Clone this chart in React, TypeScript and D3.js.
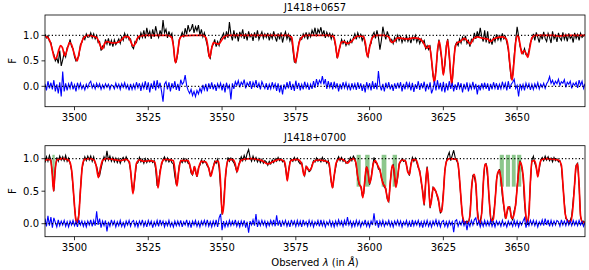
import React from "react";
import * as d3 from "d3";

// spectra are sampled on a regular grid: 3490 A, 0.5 A steps
const waveStart = 3490;
const waveStep = 0.5;

// J1418+0657 : fitted model (knots), observed flux, residual
const topModel: [number, number][] = [
  [3490.0, 0.98], [3490.8, 0.96], [3491.6, 0.9], [3492.4, 0.74], [3493.3, 0.54], [3494.0, 0.58],
  [3494.7, 0.72], [3495.3, 0.8], [3495.9, 0.76], [3496.7, 0.6], [3497.4, 0.7], [3498.3, 0.86],
  [3499.0, 0.82], [3499.8, 0.66], [3500.9, 0.5], [3501.7, 0.7], [3502.5, 0.88], [3503.4, 0.97],
  [3504.5, 1.0], [3506.0, 0.99], [3507.5, 0.96], [3508.6, 0.82], [3509.4, 0.73], [3510.2, 0.84],
  [3511.0, 0.88], [3512.0, 0.86], [3513.5, 0.85], [3515.0, 0.87], [3516.2, 0.93], [3517.2, 0.98],
  [3518.3, 0.97], [3519.2, 0.86], [3519.9, 0.79], [3520.6, 0.84], [3521.2, 0.93], [3522.2, 0.99],
  [3524.0, 1.0], [3528.0, 1.0], [3531.5, 1.0], [3532.8, 0.97], [3533.5, 0.8], [3534.2, 0.46],
  [3534.9, 0.65], [3535.6, 0.92], [3536.5, 0.99], [3540.0, 1.0], [3543.5, 1.0], [3544.6, 0.95],
  [3545.2, 0.78], [3545.8, 0.56], [3546.4, 0.72], [3547.1, 0.86], [3548.0, 0.84], [3548.9, 0.83],
  [3549.8, 0.9], [3550.8, 0.98], [3552.0, 1.0], [3560.0, 1.0], [3568.0, 1.0], [3572.5, 1.0],
  [3573.6, 0.96], [3574.2, 0.7], [3574.8, 0.47], [3575.4, 0.6], [3576.1, 0.85], [3577.0, 0.96],
  [3578.0, 1.0], [3586.0, 1.0], [3587.8, 0.98], [3588.5, 0.8], [3589.1, 0.56], [3589.7, 0.72],
  [3590.4, 0.86], [3591.2, 0.88], [3592.4, 0.84], [3593.6, 0.87], [3594.8, 0.94], [3596.0, 0.99],
  [3597.8, 0.98], [3598.6, 0.84], [3599.3, 0.58], [3600.0, 0.76], [3600.8, 0.94], [3602.0, 1.0],
  [3605.0, 1.0], [3606.5, 0.97], [3607.6, 0.86], [3608.6, 0.9], [3609.5, 0.95], [3611.0, 0.94],
  [3613.0, 0.93], [3615.0, 0.95], [3616.5, 0.94], [3618.0, 0.88], [3619.4, 0.75], [3620.2, 0.8],
  [3620.8, 0.62], [3621.4, 0.3], [3621.9, 0.07], [3622.5, 0.3], [3623.0, 0.7], [3623.6, 0.89],
  [3624.3, 0.62], [3625.0, 0.22], [3625.7, 0.58], [3626.4, 0.9], [3627.1, 0.55], [3627.8, 0.04],
  [3628.4, 0.4], [3629.0, 0.76], [3629.8, 0.86], [3630.8, 0.88], [3632.0, 0.94], [3633.3, 0.88],
  [3634.1, 0.83], [3635.0, 0.92], [3636.5, 0.97], [3638.5, 0.94], [3640.0, 0.93], [3641.0, 0.88],
  [3642.0, 0.93], [3643.5, 0.96], [3645.0, 0.97], [3646.3, 0.93], [3647.0, 0.75], [3647.7, 0.35],
  [3648.3, 0.12], [3648.9, 0.45], [3649.6, 0.9], [3650.3, 1.0], [3651.0, 0.82], [3651.6, 0.64],
  [3652.3, 0.7], [3652.9, 0.66], [3653.6, 0.57], [3654.3, 0.76], [3655.0, 0.95], [3656.0, 1.0],
  [3662.0, 1.0], [3664.0, 0.99], [3667.0, 1.0], [3673.0, 1.0],
];

const topFlux = [
  1.02, 0.95, 0.99, 0.88, 0.86, 0.7, 0.63, 0.5, 0.56, 0.45, 0.7, 0.4, 0.52, 0.66, 0.58, 0.76, 0.8, 0.92, 0.78, 0.74, 0.58, 0.5, 0.55, 0.6, 0.82, 0.86, 0.97, 0.92, 1.03, 0.96,
  0.97, 1.05, 0.95, 1.03, 0.93, 1.0, 0.86, 0.88, 0.7, 0.79, 0.76, 0.92, 0.83, 0.94, 0.8, 0.9, 0.78, 0.91, 0.82, 0.87, 0.93, 0.84, 0.97, 0.9, 1.04, 0.95, 1.01, 0.91, 0.93, 0.78,
  0.74, 0.88, 0.86, 0.98, 0.93, 1.05, 0.96, 1.1, 0.94, 1.15, 1.0, 1.08, 0.93, 1.12, 0.97, 1.18, 1.04, 0.96, 1.1, 0.99, 1.3, 1.05, 1.12, 0.95, 1.08, 0.98, 1.04, 0.82, 0.5, 0.48,
  0.64, 0.92, 0.98, 1.06, 0.96, 1.14, 1.02, 1.2, 1.08, 1.12, 1.22, 1.05, 1.17, 1.09, 1.2, 1.0, 1.12, 0.97, 1.05, 0.92, 0.8, 0.6, 0.55, 0.78, 0.82, 0.92, 0.78, 0.88, 0.8, 0.93,
  0.97, 1.04, 0.92, 1.08, 0.95, 1.26, 1.02, 0.9, 1.1, 0.94, 1.05, 0.88, 1.07, 0.98, 1.12, 0.93, 1.04, 0.9, 1.08, 0.97, 1.02, 0.89, 1.06, 0.95, 1.1, 0.92, 1.0, 1.07, 0.94, 1.03,
  0.96, 1.05, 0.9, 1.02, 0.94, 1.08, 0.97, 0.88, 1.04, 0.92, 1.06, 0.86, 0.99, 1.07, 0.93, 1.02, 0.89, 0.98, 0.72, 0.48, 0.46, 0.66, 0.84, 0.95, 0.92, 1.03, 0.96, 1.06, 0.92, 1.04,
  0.97, 1.1, 1.02, 1.15, 0.98, 1.12, 1.05, 1.16, 1.0, 1.1, 0.95, 1.06, 0.98, 1.04, 0.93, 1.02, 0.92, 0.78, 0.55, 0.68, 0.78, 0.92, 0.84, 0.9, 0.8, 0.88, 0.82, 0.92, 0.86, 0.95,
  1.03, 0.92, 1.05, 0.96, 1.02, 0.9, 0.98, 0.82, 0.64, 0.58, 0.8, 0.84, 1.0, 1.06, 0.94, 1.1, 0.96, 0.72, 0.9, 1.17, 1.02, 0.92, 1.08, 0.98, 0.88, 0.92, 0.84, 0.96, 0.88, 1.0,
  0.9, 0.98, 0.86, 0.95, 0.89, 0.99, 0.88, 0.96, 0.85, 0.97, 0.91, 1.0, 0.87, 0.95, 0.84, 0.93, 0.86, 0.9, 0.74, 0.8, 0.72, 0.78, 0.5, 0.2, 0.1, 0.34, 0.66, 0.92, 0.7, 0.52,
  0.24, 0.42, 0.8, 0.93, 0.58, 0.18, 0.06, 0.48, 0.8, 0.86, 0.8, 0.93, 0.85, 0.97, 0.9, 0.99, 0.84, 0.9, 0.78, 0.92, 0.88, 1.05, 0.93, 1.08, 0.96, 1.15, 0.98, 0.88, 1.1, 0.86,
  1.08, 0.84, 0.92, 0.82, 0.96, 0.88, 1.02, 0.91, 0.99, 0.9, 1.04, 0.93, 0.98, 0.86, 0.72, 0.42, 0.14, 0.22, 0.6, 0.9, 1.17, 0.98, 0.78, 0.7, 0.64, 0.74, 0.62, 0.6, 0.7, 0.86,
  0.93, 1.03, 0.9, 1.06, 0.96, 0.86, 1.02, 0.92, 1.07, 0.94, 0.88, 1.04, 0.96, 0.85, 1.08, 0.93, 1.0, 0.87, 1.05, 0.95, 0.9, 1.06, 0.92, 1.01, 0.88, 1.04, 0.94, 0.99, 0.86, 1.05,
  0.94, 1.02, 0.9, 1.04, 0.96, 0.99, 1.02,
];

const topResid = [
  0.05, -0.08, 0.1, -0.04, 0.07, -0.06, 0.12, -0.1, 0.04, -0.14, 0.08, -0.2, 0.29, -0.1, 0.06, -0.08, 0.05, -0.04, 0.09, -0.06, 0.03, -0.1, 0.07, -0.04, 0.06, -0.05, 0.02, -0.07, 0.04, -0.03,
  0.06, 0.1, -0.03, 0.04, -0.05, 0.06, -0.02, 0.05, -0.06, 0.03, -0.04, 0.05, -0.02, 0.04, -0.06, 0.03, 0.01, -0.05, 0.06, -0.03, 0.04, -0.06, 0.05, -0.02, 0.07, -0.04, 0.03, -0.08, 0.05, -0.06,
  0.04, -0.05, 0.08, -0.03, 0.06, -0.09, 0.05, -0.04, 0.1, -0.07, 0.08, -0.12, 0.06, -0.05, 0.11, -0.08, 0.12, -0.04, 0.07, -0.1, -0.3, 0.04, 0.09, -0.06, 0.08, -0.1, 0.06, -0.04, 0.1, -0.07,
  0.05, -0.09, 0.13, 0.04, 0.08, 0.22, 0.02, -0.08, -0.14, -0.06, -0.18, -0.1, -0.2, -0.08, -0.15, -0.04, -0.12, 0.03, -0.07, 0.05, -0.1, 0.06, -0.05, 0.08, -0.06, 0.04, -0.09, 0.05, -0.03, 0.06,
  -0.08, 0.05, -0.12, 0.07, -0.04, 0.02, -0.26, 0.06, -0.05, 0.09, 0.02, 0.11, -0.02, 0.08, 0.03, 0.13, -0.04, 0.07, 0.01, 0.1, -0.05, 0.08, 0.0, 0.12, -0.03, 0.06, -0.06, 0.09, 0.02, -0.04,
  0.06, -0.07, 0.04, -0.05, 0.08, -0.03, 0.05, -0.09, 0.06, -0.12, 0.03, -0.16, 0.04, -0.06, 0.08, -0.04, 0.1, -0.07, 0.05, -0.09, 0.11, -0.05, 0.07, -0.08, 0.04, -0.06, 0.09, -0.03, 0.05, -0.07,
  0.04, -0.05, 0.1, -0.03, 0.14, 0.02, 0.12, 0.06, 0.2, 0.04, 0.14, -0.05, 0.1, -0.02, 0.08, -0.06, 0.09, -0.04, 0.06, -0.1, 0.05, -0.06, 0.08, -0.03, 0.07, -0.05, 0.04, -0.08, 0.06, -0.04,
  0.05, -0.07, 0.08, -0.05, 0.06, -0.09, 0.04, -0.12, 0.08, -0.04, 0.06, -0.08, 0.1, -0.05, 0.07, -0.06, 0.3, 0.02, -0.08, 0.05, -0.1, 0.07, -0.04, 0.08, -0.06, 0.04, -0.09, 0.06, -0.05, 0.07,
  -0.04, 0.08, -0.1, 0.05, -0.06, 0.09, -0.03, 0.06, -0.08, 0.07, -0.11, 0.04, -0.05, 0.1, -0.07, 0.06, -0.04, 0.09, -0.1, 0.05, -0.06, 0.08, -0.14, -0.05, 0.1, -0.08, 0.12, -0.06, 0.07, -0.1,
  0.09, -0.12, 0.06, -0.08, 0.1, -0.05, 0.07, -0.1, 0.04, -0.07, 0.08, -0.04, 0.06, -0.12, 0.05, -0.06, 0.08, -0.1, 0.04, -0.05, 0.09, -0.06, 0.05, -0.16, 0.03, -0.08, 0.06, -0.04, 0.07, -0.05,
  0.06, -0.09, 0.05, -0.06, 0.08, -0.04, 0.06, -0.07, 0.04, -0.05, 0.09, -0.03, 0.06, -0.08, 0.1, -0.05, 0.04, 0.08, 0.14, -0.04, 0.02, -0.2, 0.05, -0.06, 0.04, -0.08, 0.06, -0.03, 0.05, -0.07,
  0.04, -0.06, 0.05, -0.03, 0.07, -0.05, 0.04, -0.02, 0.06, -0.04, 0.05, 0.1, 0.19, 0.06, 0.12, 0.03, 0.1, 0.05, 0.14, 0.02, 0.09, 0.06, 0.13, -0.02, 0.08, 0.04, 0.1, -0.04, 0.06, 0.02,
  0.08, -0.03, 0.12, 0.02, 0.1, -0.04, 0.05,
];

// J1418+0700
const botModel: [number, number][] = [
  [3490.0, 0.97], [3491.0, 0.99], [3491.9, 0.98], [3492.4, 0.8], [3492.9, 0.5], [3493.4, 0.8],
  [3494.0, 0.98], [3496.0, 1.0], [3497.5, 0.99], [3498.4, 0.95], [3499.2, 0.75], [3499.8, 0.4],
  [3500.4, 0.08], [3500.9, 0.02], [3501.4, 0.1], [3502.0, 0.5], [3502.7, 0.9], [3503.4, 0.99],
  [3505.0, 1.0], [3506.6, 0.98], [3507.3, 0.9], [3508.1, 0.71], [3508.8, 0.86], [3509.6, 0.98],
  [3511.0, 1.0], [3513.0, 0.99], [3515.5, 0.97], [3517.5, 0.99], [3518.6, 0.95], [3519.2, 0.72],
  [3519.8, 0.46], [3520.4, 0.7], [3521.0, 0.93], [3522.0, 0.98], [3523.5, 0.96], [3525.5, 0.97],
  [3527.2, 0.95], [3527.8, 0.78], [3528.3, 0.55], [3528.9, 0.75], [3529.6, 0.94], [3530.5, 0.99],
  [3533.5, 0.97], [3534.1, 0.8], [3534.7, 0.58], [3535.3, 0.8], [3536.0, 0.97], [3538.5, 0.97],
  [3539.4, 0.84], [3540.0, 0.76], [3540.7, 0.88], [3541.5, 0.73], [3542.2, 0.88], [3543.0, 0.96],
  [3544.5, 0.95], [3545.5, 0.85], [3546.2, 0.73], [3546.9, 0.85], [3547.8, 0.96], [3548.8, 0.96],
  [3549.4, 0.7], [3549.9, 0.25], [3550.2, 0.15], [3550.6, 0.3], [3551.2, 0.75], [3552.0, 0.97],
  [3553.5, 0.99], [3554.4, 0.93], [3555.1, 0.8], [3555.8, 0.92], [3557.0, 0.99], [3560.0, 1.0],
  [3563.5, 0.97], [3565.5, 0.92], [3567.5, 0.96], [3569.5, 0.99], [3571.2, 0.95], [3571.7, 0.82],
  [3572.1, 0.66], [3572.6, 0.82], [3573.3, 0.97], [3575.5, 0.99], [3577.0, 0.92], [3577.8, 0.74],
  [3578.6, 0.88], [3579.5, 0.82], [3580.3, 0.86], [3581.0, 0.95], [3582.5, 0.98], [3584.5, 0.97],
  [3586.2, 0.94], [3586.9, 0.7], [3587.4, 0.55], [3587.9, 0.7], [3588.7, 0.94], [3590.0, 1.0],
  [3591.5, 0.97], [3592.5, 0.93], [3593.5, 0.98], [3594.5, 1.0], [3595.3, 0.95], [3596.0, 0.72],
  [3596.6, 0.6], [3597.2, 0.55], [3597.7, 0.4], [3598.3, 0.62], [3598.9, 0.87], [3599.4, 0.82],
  [3600.0, 0.62], [3600.6, 0.72], [3601.3, 0.93], [3601.9, 0.97], [3602.7, 0.9], [3603.5, 0.82],
  [3604.5, 0.62], [3605.3, 0.56], [3606.0, 0.4], [3606.4, 0.34], [3607.0, 0.62], [3607.7, 0.9],
  [3608.3, 0.82], [3608.9, 0.56], [3609.5, 0.72], [3610.2, 0.94], [3611.0, 0.98], [3612.2, 0.96],
  [3612.9, 0.8], [3613.5, 0.76], [3614.0, 0.9], [3614.6, 0.99], [3615.8, 0.98], [3616.5, 0.88],
  [3617.3, 0.72], [3617.9, 0.52], [3618.5, 0.3], [3619.0, 0.62], [3619.5, 0.86], [3620.0, 0.62],
  [3620.5, 0.26], [3621.1, 0.4], [3621.6, 0.56], [3622.2, 0.52], [3622.7, 0.46], [3623.3, 0.38],
  [3623.9, 0.2], [3624.4, 0.18], [3625.0, 0.45], [3625.5, 0.8], [3626.2, 0.97], [3627.0, 1.0],
  [3629.5, 0.99], [3630.2, 0.84], [3630.8, 0.5], [3631.5, 0.12], [3632.3, 0.02], [3633.4, 0.02],
  [3634.1, 0.18], [3634.7, 0.62], [3635.4, 0.76], [3636.0, 0.62], [3636.7, 0.1], [3637.5, 0.02],
  [3638.2, 0.3], [3638.7, 0.75], [3639.2, 0.92], [3639.8, 0.86], [3640.5, 0.4], [3641.2, 0.05],
  [3641.9, 0.06], [3642.6, 0.4], [3643.3, 0.76], [3644.0, 0.82], [3644.7, 0.62], [3645.5, 0.28],
  [3646.2, 0.08], [3646.9, 0.26], [3647.5, 0.24], [3648.2, 0.08], [3648.8, 0.12], [3649.5, 0.3],
  [3650.2, 0.65], [3650.9, 0.95], [3651.5, 0.9], [3652.2, 0.65], [3652.9, 0.15], [3653.4, 0.01],
  [3654.0, 0.15], [3654.5, 0.65], [3655.0, 0.96], [3655.8, 0.97], [3656.4, 0.9], [3657.0, 0.72],
  [3657.6, 0.9], [3658.4, 0.99], [3660.0, 1.0], [3662.5, 0.99], [3664.0, 0.98], [3665.0, 0.9],
  [3665.6, 0.55], [3666.3, 0.15], [3667.2, 0.04], [3668.2, 0.03], [3668.8, 0.2], [3669.4, 0.55],
  [3669.9, 0.86], [3670.5, 0.92], [3671.0, 0.6], [3671.5, 0.12], [3672.2, 0.02], [3673.0, 0.02],
];

const botFlux = [
  0.94, 1.03, 0.96, 1.05, 0.98, 0.76, 0.5, 0.86, 1.02, 0.96, 1.04, 0.98, 1.03, 0.97, 1.05, 0.96, 1.01, 0.93, 0.82, 0.56, 0.26, 0.04, 0.02, 0.16, 0.52, 0.84, 0.94, 1.03, 0.97, 1.04,
  0.98, 1.04, 0.96, 1.03, 0.93, 0.88, 0.78, 0.74, 0.85, 0.95, 1.03, 0.97, 1.12, 0.98, 1.04, 0.96, 1.02, 0.95, 1.01, 0.94, 1.0, 0.93, 0.99, 1.02, 0.96, 1.03, 0.98, 0.94, 0.82, 0.58,
  0.5, 0.72, 0.92, 0.94, 1.02, 0.95, 0.99, 0.93, 1.0, 0.94, 0.99, 0.95, 0.98, 0.94, 0.97, 0.84, 0.58, 0.64, 0.82, 0.9, 0.99, 1.03, 0.96, 1.01, 0.95, 0.99, 0.94, 0.92, 0.73, 0.6,
  0.7, 0.9, 0.97, 0.94, 1.0, 0.95, 0.99, 0.93, 0.92, 0.78, 0.75, 0.86, 0.8, 0.72, 0.86, 0.9, 0.98, 0.93, 0.97, 0.94, 0.89, 0.86, 0.74, 0.79, 0.87, 0.96, 0.93, 0.99, 0.86, 0.55,
  0.14, 0.28, 0.64, 0.86, 1.02, 0.96, 1.01, 0.97, 0.94, 0.88, 0.8, 0.88, 0.96, 1.03, 0.97, 1.05, 0.98, 1.08, 1.14, 1.02, 0.96, 1.04, 0.97, 1.02, 0.95, 1.0, 0.94, 0.99, 0.93, 0.97,
  0.95, 0.9, 0.96, 0.92, 0.98, 0.94, 1.0, 0.96, 1.02, 0.97, 1.0, 0.95, 0.97, 0.86, 0.68, 0.8, 0.95, 0.99, 0.96, 1.02, 0.97, 1.01, 0.95, 0.92, 0.94, 0.8, 0.74, 0.88, 0.84, 0.8,
  0.82, 0.9, 0.97, 0.95, 1.01, 0.96, 0.99, 0.95, 1.02, 0.96, 0.98, 0.93, 0.97, 0.84, 0.64, 0.55, 0.74, 0.86, 0.98, 1.03, 0.97, 1.02, 0.96, 0.99, 0.93, 0.95, 0.97, 1.02, 0.97, 1.04,
  1.0, 0.88, 0.7, 0.6, 0.58, 0.44, 0.46, 0.72, 0.88, 0.78, 0.6, 0.7, 0.87, 1.02, 0.94, 0.93, 0.84, 0.84, 0.7, 0.64, 0.56, 0.54, 0.38, 0.34, 0.64, 0.86, 0.9, 0.7, 0.58, 0.7,
  0.92, 0.95, 1.0, 0.96, 0.98, 0.9, 0.8, 0.74, 0.92, 1.02, 0.96, 1.01, 0.94, 0.86, 0.82, 0.64, 0.5, 0.28, 0.64, 0.88, 0.6, 0.24, 0.4, 0.56, 0.52, 0.5, 0.4, 0.32, 0.16, 0.22,
  0.48, 0.82, 0.96, 1.04, 1.1, 0.97, 1.05, 1.13, 1.02, 0.97, 0.92, 0.66, 0.36, 0.1, 0.02, 0.0, 0.04, 0.01, 0.12, 0.52, 0.74, 0.72, 0.6, 0.22, 0.03, 0.04, 0.16, 0.6, 0.9, 0.92,
  0.72, 0.38, 0.08, 0.03, 0.14, 0.33, 0.68, 0.78, 0.84, 0.68, 0.42, 0.26, 0.08, 0.16, 0.24, 0.26, 0.1, 0.06, 0.2, 0.28, 0.57, 0.8, 0.97, 0.88, 0.74, 0.32, 0.08, -0.02, 0.17, 0.63,
  0.98, 1.04, 0.93, 0.86, 0.74, 0.84, 0.98, 1.02, 0.97, 1.04, 0.98, 1.03, 0.97, 1.01, 0.95, 1.02, 0.97, 1.0, 0.95, 0.97, 0.88, 0.6, 0.32, 0.08, 0.06, 0.02, 0.05, 0.12, 0.36, 0.62,
  0.9, 0.93, 0.58, 0.1, 0.03, 0.04, 0.01,
];

const botResid = [
  0.08, -0.04, 0.12, -0.03, 0.1, -0.06, 0.09, 0.02, -0.05, 0.06, -0.03, 0.04, -0.02, 0.05, -0.04, 0.03, -0.05, 0.04, -0.02, 0.05, -0.03, 0.03, -0.05, 0.06, -0.02, 0.04, -0.04, 0.03, -0.05, 0.04,
  -0.02, 0.06, -0.04, 0.05, -0.03, 0.19, -0.02, 0.08, -0.06, 0.04, -0.03, 0.05, -0.12, 0.03, -0.04, 0.06, -0.02, 0.04, -0.05, 0.03, -0.03, 0.05, -0.04, 0.02, -0.05, 0.04, -0.02, 0.05, -0.04, 0.03,
  0.05, -0.04, 0.03, -0.05, 0.04, -0.02, 0.06, -0.04, 0.03, -0.05, 0.05, -0.02, 0.04, -0.06, 0.03, -0.03, 0.05, -0.04, 0.06, -0.02, 0.04, -0.05, 0.03, -0.03, 0.05, -0.04, 0.02, -0.05, 0.04, -0.03,
  0.04, -0.03, 0.05, -0.05, 0.03, -0.02, 0.06, -0.04, 0.03, -0.06, 0.04, -0.02, 0.05, -0.04, 0.03, -0.05, 0.04, -0.02, 0.05, -0.03, 0.06, -0.04, 0.03, -0.05, 0.04, -0.03, 0.06, -0.05, 0.09, 0.15,
  -0.1, 0.04, -0.05, 0.03, -0.04, 0.05, -0.03, 0.04, -0.02, 0.06, -0.04, 0.03, -0.05, 0.04, -0.03, 0.05, -0.06, 0.03, -0.14, 0.04, -0.02, 0.06, -0.03, 0.15, -0.05, 0.04, -0.03, 0.05, -0.02, 0.04,
  -0.05, 0.03, -0.03, 0.05, -0.02, 0.06, -0.04, 0.13, -0.03, 0.05, -0.05, 0.04, -0.02, 0.05, -0.04, 0.03, -0.05, 0.06, -0.02, 0.04, -0.04, 0.05, -0.03, 0.04, -0.05, 0.06, -0.02, 0.03, -0.04, 0.05,
  -0.03, 0.04, -0.05, 0.03, -0.02, 0.05, -0.04, 0.06, -0.03, 0.04, -0.05, 0.03, -0.02, 0.05, -0.04, 0.03, -0.05, 0.04, -0.03, 0.06, -0.02, 0.04, -0.04, 0.05, -0.03, 0.1, -0.02, 0.04, -0.05, 0.03,
  -0.04, 0.05, -0.03, 0.04, -0.05, 0.03, -0.02, 0.06, -0.04, 0.03, -0.05, 0.04, -0.02, 0.16, -0.03, 0.05, -0.06, 0.04, -0.03, 0.05, -0.04, 0.03, -0.02, 0.05, -0.04, 0.03, -0.05, 0.04, -0.02, 0.05,
  -0.03, 0.04, -0.05, 0.03, -0.02, 0.05, -0.04, 0.03, -0.05, 0.06, -0.03, 0.04, -0.02, 0.05, -0.04, 0.03, -0.06, 0.04, -0.03, 0.05, -0.04, 0.03, -0.05, 0.04, -0.02, 0.06, -0.03, 0.04, -0.05, 0.03,
  0.05, -0.04, 0.03, -0.05, 0.04, -0.02, 0.03, -0.13, 0.04, 0.06, -0.04, 0.03, -0.02, 0.05, -0.03, 0.04, -0.1, 0.03, -0.04, 0.05, -0.02, 0.06, 0.09, -0.03, 0.04, -0.05, 0.03, -0.04, 0.05, -0.03,
  0.04, -0.03, 0.05, -0.04, 0.03, -0.05, 0.04, -0.02, 0.03, -0.04, 0.05, -0.03, 0.02, -0.05, 0.04, -0.02, 0.03, -0.04, 0.05, -0.03, 0.04, -0.05, 0.03, -0.02, 0.04, 0.09, -0.06, 0.04, -0.03, 0.05,
  -0.02, 0.05, -0.03, 0.04, -0.05, 0.03, -0.02, 0.06, -0.03, 0.08, -0.02, 0.06, -0.04, 0.05, -0.03, 0.04, -0.02, 0.05, 0.03, -0.04, 0.06, -0.02, 0.04, -0.03, 0.05, -0.02, 0.04, -0.03, 0.05, -0.02,
  0.04, -0.03, 0.05, -0.02, 0.03, -0.04, 0.02,
];

// wavelength ranges shaded green in the lower panel
const botBands: [number, number][] = [
  [3492.5, 3493.3], [3595.6, 3597.0], [3598.5, 3600.0], [3604.1, 3605.7], [3607.8, 3609.3],
  [3644.1, 3645.5], [3646.2, 3647.6], [3648.2, 3649.5], [3650.0, 3651.4],
];

const xTicks = [3500, 3525, 3550, 3575, 3600, 3625, 3650];
const yTicks = [0, 0.5, 1.0];

const font = "DejaVu Sans, sans-serif";
const left = 45;
const right = 585;

const x = d3.scaleLinear().domain([3490, 3673]).range([left, right]);

function Panel({ top, bottom, yDomain, title, model, flux, resid, bands, id }) {
  const y = d3.scaleLinear().domain(yDomain).range([bottom, top]);
  const wave = (i: number) => waveStart + i * waveStep;

  const dataLine = d3.line<number>().x((d, i) => x(wave(i))).y((d) => y(d));
  const modelLine = d3
    .line<[number, number]>()
    .x((d) => x(d[0]))
    .y((d) => y(d[1]))
    .curve(d3.curveMonotoneX);

  // axvspan(ymin=0.55, ymax=0.9) in axes fraction
  const bandY0 = top + (bottom - top) * 0.1;
  const bandY1 = top + (bottom - top) * 0.45;

  return (
    <g>
      <defs>
        <clipPath id={id}>
          <rect x={left} y={top} width={right - left} height={bottom - top} />
        </clipPath>
      </defs>
      <g clipPath={`url(#${id})`}>
        {bands.map((b, i) => (
          <rect key={i} x={x(b[0])} y={bandY0} width={x(b[1]) - x(b[0])} height={bandY1 - bandY0}
            fill="#008000" fillOpacity={0.45} />
        ))}
        <path d={dataLine(flux)} fill="none" stroke="#000" strokeWidth={1.1} />
        <path d={modelLine(model)} fill="none" stroke="#ff0000" strokeWidth={1.7} />
        <path d={dataLine(resid)} fill="none" stroke="#0000ff" strokeWidth={1.1} />
        {[1, 0].map((v) => (
          <line key={v} x1={left} x2={right} y1={y(v)} y2={y(v)} stroke="#000"
            strokeWidth={1.2} strokeDasharray="1.2 2.2" />
        ))}
      </g>
      <rect x={left} y={top} width={right - left} height={bottom - top} fill="none" stroke="#000" strokeWidth={0.8} />
      {xTicks.map((t) => (
        <g key={t}>
          <line x1={x(t)} x2={x(t)} y1={bottom} y2={bottom + 3.5} stroke="#000" strokeWidth={0.8} />
          <text x={x(t)} y={bottom + 14} textAnchor="middle" fontSize={10} fontFamily={font}>{t}</text>
        </g>
      ))}
      {yTicks.map((t) => (
        <g key={t}>
          <line x1={left - 3.5} x2={left} y1={y(t)} y2={y(t)} stroke="#000" strokeWidth={0.8} />
          <text x={left - 6} y={y(t)} dy="0.35em" textAnchor="end" fontSize={10} fontFamily={font}>
            {t.toFixed(1)}
          </text>
        </g>
      ))}
      <text x={(left + right) / 2} y={top - 4.5} textAnchor="middle" fontSize={10} fontFamily={font}>{title}</text>
      <text transform={`translate(15.5,${(top + bottom) / 2}) rotate(-90)`} textAnchor="middle" fontSize={10}
        fontFamily={font}>F</text>
    </g>
  );
}

export default function App() {
  return (
    <svg width={589} height={270} style={{ position: "absolute", left: 0, top: 0, background: "#fff" }}>
      <Panel id="c1" top={15} bottom={106.7} yDomain={[-0.4, 1.4]} title="J1418+0657"
        model={topModel} flux={topFlux} resid={topResid} bands={[]} />
      <Panel id="c2" top={145.7} bottom={236.7} yDomain={[-0.2, 1.2]} title="J1418+0700"
        model={botModel} flux={botFlux} resid={botResid} bands={botBands} />
      <text x={(left + right) / 2} y={265.5} textAnchor="middle" fontSize={10} fontFamily={font}>
        Observed <tspan fontStyle="italic">λ</tspan> (in <tspan fontStyle="italic">Å</tspan>)
      </text>
    </svg>
  );
}
